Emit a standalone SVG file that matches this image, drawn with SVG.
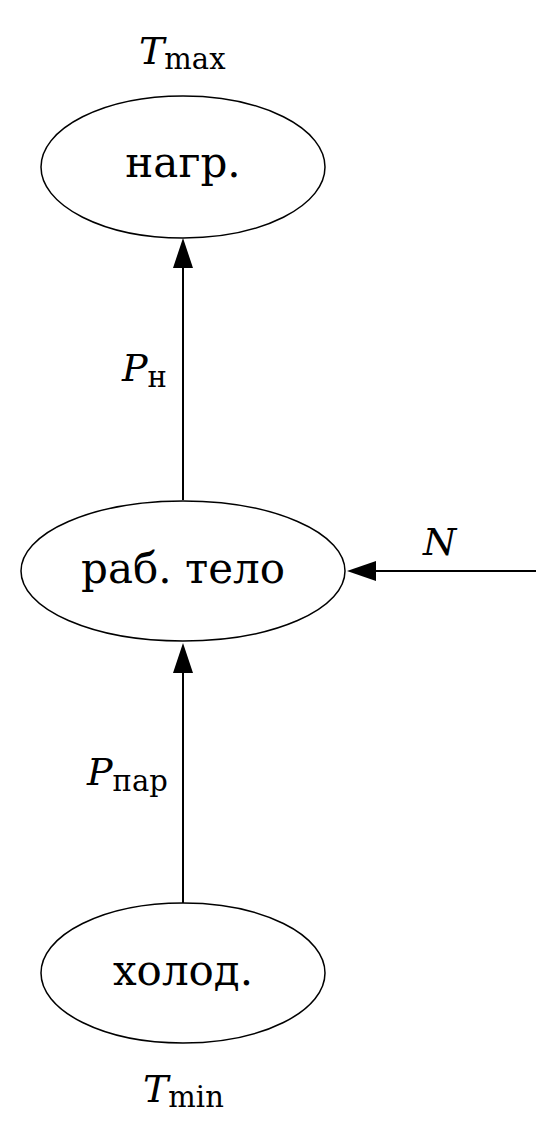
<svg xmlns="http://www.w3.org/2000/svg" width="558" height="1143" viewBox="0 0 558 1143">
<style>
.node{fill:none;stroke:#000;stroke-width:1.5}
.lbl{font-family:"DejaVu Serif",serif;font-size:42px;text-anchor:middle;fill:#000}
.m{font-family:"DejaVu Serif",serif;font-size:38px;font-style:italic;fill:#000}
.s{font-size:29px;font-style:normal}
.edge{stroke:#000;stroke-width:2;fill:none}
</style>
<rect width="558" height="1143" fill="#fff"/>
<g id="connectors">
<path class="edge" d="M183,500 L183,262"/>
<path d="M173,268 L183,238 L193,268 Z" fill="#000"/>
<path class="edge" d="M183,903 L183,668"/>
<path d="M173,673 L183,643 L193,673 Z" fill="#000"/>
<path class="edge" d="M536,571 L370,571"/>
<path d="M376,561 L347,571 L376,581 Z" fill="#000"/>
<text class="m" x="122" y="381">P<tspan class="s" dy="6">н</tspan></text>
<text class="m" x="87" y="785">P<tspan class="s" dy="6">пар</tspan></text>
<text class="m" x="423" y="555">N</text>
</g>
<g id="heater">
<ellipse class="node" cx="183" cy="167" rx="142" ry="71"/>
<text class="lbl" x="183" y="177">нагр.</text>
<text class="m" x="139" y="64">T<tspan class="s" dy="5">max</tspan></text>
</g>
<g id="body">
<ellipse class="node" cx="183" cy="571" rx="162" ry="70"/>
<text class="lbl" x="183" y="583">раб. тело</text>
</g>
<g id="cooler">
<ellipse class="node" cx="183" cy="973" rx="142" ry="70"/>
<text class="lbl" x="183" y="985">холод.</text>
<text class="m" x="143" y="1102">T<tspan class="s" dy="5">min</tspan></text>
</g>
</svg>
